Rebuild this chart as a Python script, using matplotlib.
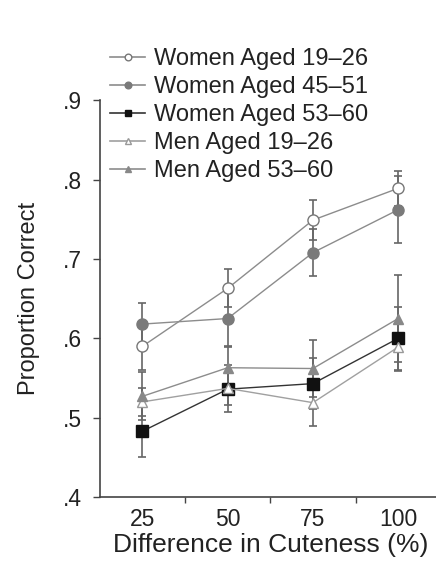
import matplotlib
matplotlib.use("Agg")
import matplotlib.pyplot as plt
from matplotlib.ticker import FixedLocator, FuncFormatter
from matplotlib.lines import Line2D

plt.rcParams['font.family'] = ['Liberation Sans', 'DejaVu Sans']

categories = ["25", "50", "75", "100"]
xlabel = "Difference in Cuteness (%)"
ylabel = "Proportion Correct"

women_19_26 = [0.590, 0.663, 0.749, 0.789]
women_19_26_err = [0.030, 0.024, 0.025, 0.022]
women_45_51 = [0.618, 0.625, 0.708, 0.762]
women_45_51_err = [0.027, 0.035, 0.030, 0.042]
women_53_60 = [0.483, 0.536, 0.543, 0.600]
women_53_60_err = [0.032, 0.020, 0.032, 0.040]
men_19_26 = [0.520, 0.537, 0.519, 0.589]
men_19_26_err = [0.018, 0.030, 0.030, 0.030]
men_53_60 = [0.527, 0.563, 0.562, 0.625]
men_53_60_err = [0.030, 0.026, 0.036, 0.055]

series = [
    ("Women Aged 19\u201326", women_19_26, women_19_26_err,
     dict(marker='o', mfc='white', mec='#777777', ms=8, color='#8c8c8c')),
    ("Women Aged 45\u201351", women_45_51, women_45_51_err,
     dict(marker='o', mfc='#7a7a7a', mec='#7a7a7a', ms=8, color='#8c8c8c')),
    ("Women Aged 53\u201360", women_53_60, women_53_60_err,
     dict(marker='s', mfc='#111111', mec='#111111', ms=8, color='#333333')),
    ("Men Aged 19\u201326", men_19_26, men_19_26_err,
     dict(marker='^', mfc='white', mec='#999999', ms=7.5, color='#a0a0a0')),
    ("Men Aged 53\u201360", men_53_60, men_53_60_err,
     dict(marker='^', mfc='#888888', mec='#888888', ms=7.5, color='#8c8c8c')),
]

fig = plt.figure(figsize=(4.36, 5.63), dpi=100)
ax = fig.add_axes([0.229, 0.117, 0.782, 0.705])

x = list(range(1, len(categories) + 1))
handles = []
for label, vals, errs, st in series:
    ax.errorbar(x, vals, yerr=errs, lw=1.0, elinewidth=1.2,
                ecolor='#666666', capsize=3, capthick=1.2, zorder=3, **st)
    hst = dict(st)
    hst['ms'] = st['ms'] * 0.6
    handles.append(Line2D([], [], lw=1.2, label=label, **hst))

ax.set_xlim(0.5, 4.5)
ax.set_ylim(0.4, 0.9)
ax.set_xticks(x)
ax.set_xticklabels(categories, fontsize=16.5, color='#222222')
ax.xaxis.set_minor_locator(FixedLocator([1.5, 2.5, 3.5]))
ax.tick_params(axis='x', which='major', length=0, pad=8)
ax.tick_params(axis='x', which='minor', length=4, width=1, color='#444444')
ax.set_yticks([0.4, 0.5, 0.6, 0.7, 0.8, 0.9])
ax.yaxis.set_major_formatter(FuncFormatter(lambda v, p: ("%.1f" % v)[1:]))
ax.tick_params(axis='y', labelsize=16.5, length=5, width=1, color='#444444',
               labelcolor='#222222', pad=8)
for s in ['top', 'right']:
    ax.spines[s].set_visible(False)
for s in ['left', 'bottom']:
    ax.spines[s].set_color('#444444')
    ax.spines[s].set_linewidth(1.2)

ax.set_xlabel(xlabel, fontsize=19, color='#222222', labelpad=1)
ax.set_ylabel(ylabel, fontsize=17, color='#222222', labelpad=16)

fig.legend(handles=handles, loc='upper left', bbox_to_anchor=(0.225, 0.935),
           frameon=False, fontsize=17, handlelength=1.5, handletextpad=0.35,
           labelspacing=0.25, borderpad=0, labelcolor='#222222')

fig.savefig("out.png", dpi=100, facecolor='white')
